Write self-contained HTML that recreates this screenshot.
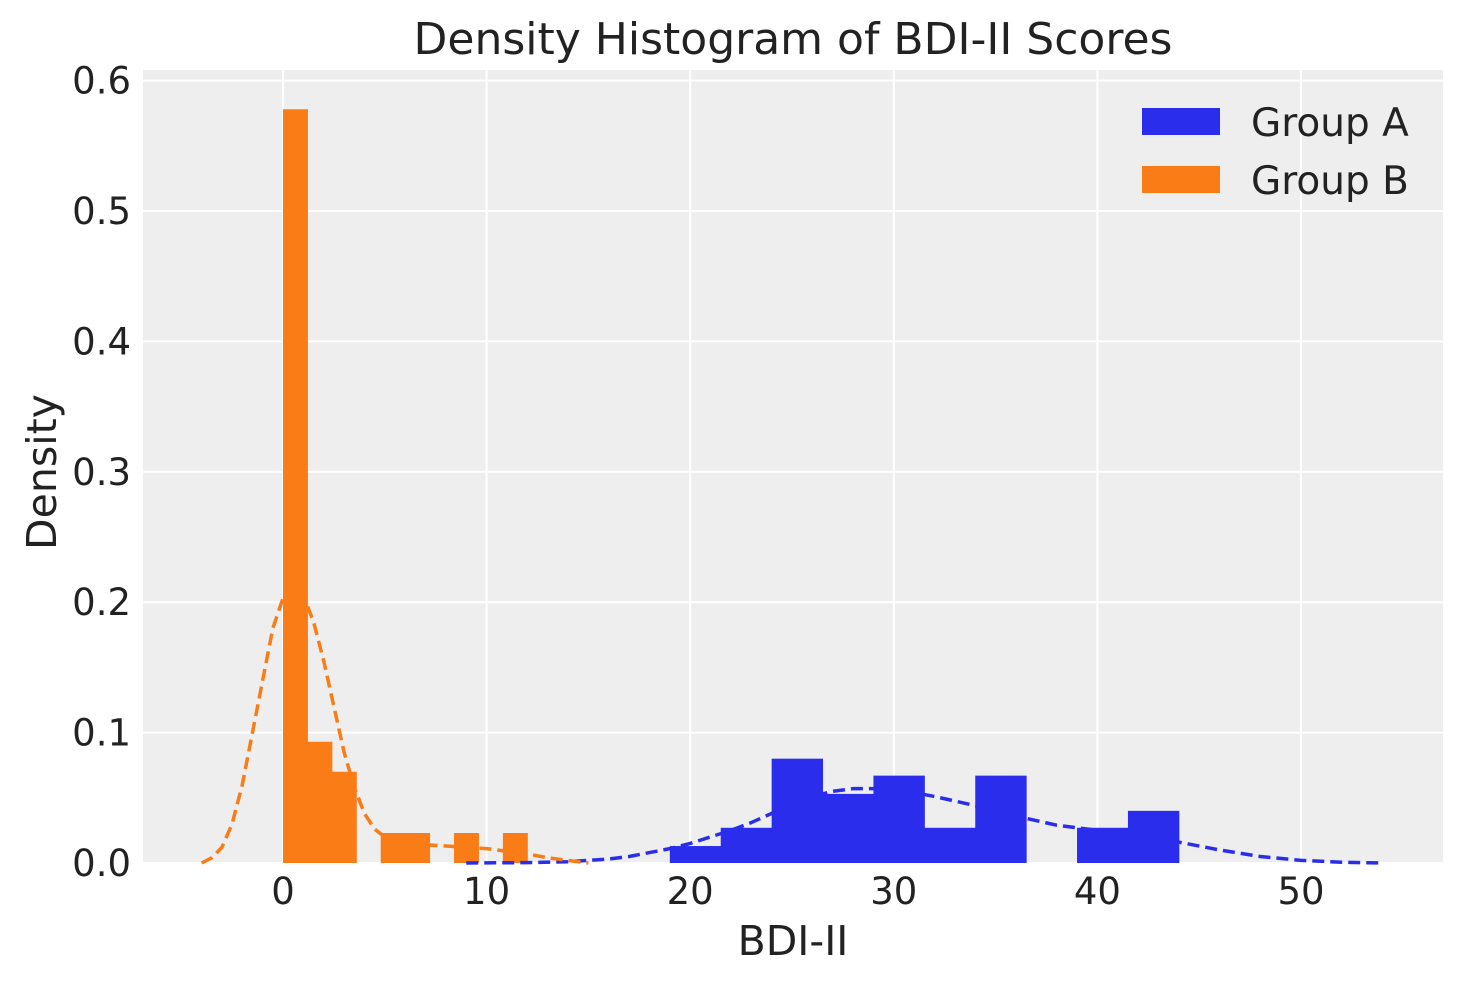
<!DOCTYPE html>
<html><head><meta charset="utf-8"><style>
body{margin:0;background:#fff;font-family:"Liberation Sans","DejaVu Sans",sans-serif;}
svg text{font-family:"DejaVu Sans","Liberation Sans",sans-serif;fill:#222;}
</style></head><body>
<svg id="chart" width="1463" height="983" xmlns="http://www.w3.org/2000/svg">
<rect x="143" y="70" width="1300" height="793" fill="#eeeeee"/>
<g id="grid"></g><g id="bars"></g><g id="lines"></g><g id="ticks"></g>
<text x="793" y="54" font-size="44" text-anchor="middle">Density Histogram of BDI-II Scores</text>
<text x="793" y="955" font-size="41" text-anchor="middle">BDI-II</text>
<text x="0" y="0" font-size="41" text-anchor="middle" transform="translate(56,472) rotate(-90)">Density</text>
<g>
<rect x="1142" y="108" width="78" height="27" fill="#2a2eec"/>
<text x="1251" y="136" font-size="39">Group A</text>
<rect x="1142" y="166" width="78" height="27" fill="#fa7c17"/>
<text x="1251" y="194" font-size="39">Group B</text>
</g>
</svg>
<script>
const xTicks=[0,10,20,30,40,50];
const yTicks=[0.0,0.1,0.2,0.3,0.4,0.5,0.6];
const bStart=0, bWidth=1.2;
const bValues=[0.578,0.093,0.070,0,0.023,0.023,0,0.023,0,0.023];
const aStart=19, aWidth=2.5;
const aValues=[0.013,0.027,0.080,0.053,0.067,0.027,0.067,0,0.027,0.040];
const bKdeX=[-4,-3.5,-3,-2.5,-2,-1.5,-1,-0.5,0,0.5,1,1.5,2,2.5,3,3.5,4,4.5,5,6,7,8,9,10,11,12,13,14,15];
const bKdeY=[0,0.004,0.012,0.03,0.06,0.1,0.14,0.18,0.203,0.212,0.205,0.185,0.155,0.12,0.085,0.058,0.038,0.026,0.02,0.016,0.014,0.013,0.012,0.011,0.009,0.007,0.004,0.002,0];
const aKdeX=[9,12,14,16,17,18,19,20,21,22,23,24,25,26,27,28,29,30,31,32,34,36,38,40,42,44,46,48,50,52,54];
const aKdeY=[0,0.0003,0.001,0.003,0.005,0.008,0.011,0.015,0.02,0.025,0.031,0.038,0.045,0.051,0.055,0.057,0.057,0.056,0.054,0.051,0.044,0.036,0.029,0.025,0.022,0.016,0.01,0.005,0.002,0.0006,0];
const NS="http://www.w3.org/2000/svg";
const X=v=>283+v*20.36, Y=v=>863-v*1304;
function mk(t,p,a){const e=document.createElementNS(NS,t);for(const k in a)e.setAttribute(k,a[k]);document.getElementById(p).appendChild(e);return e;}
xTicks.forEach(t=>{
 const l=mk('line','grid',{x1:X(t),x2:X(t),y1:70,y2:863,stroke:'#fff','stroke-width':2});
 
 
 const s=mk('text','ticks',{x:X(t),y:904,'font-size':37,'text-anchor':'middle'});s.textContent=t;
 
 
});
yTicks.forEach(t=>{
 const l=mk('line','grid',{x1:143,x2:1443,y1:Y(t),y2:Y(t),stroke:'#fff','stroke-width':2});
 
 
 const s=mk('text','ticks',{x:131,y:Y(t)+13,'font-size':37,'text-anchor':'end'});s.textContent=t.toFixed(1);
 
 
});
function bars(vals,start,w,col,name){vals.forEach((v,i)=>{
 const x0=X(start+i*w),x1=X(start+(i+1)*w);
 const r=mk('rect','bars',{x:x0,y:Y(v),width:x1-x0+0.5,height:Y(0)-Y(v),fill:col});
 
 
});}
bars(aValues,aStart,aWidth,'#2a2eec','bar-group-a');
bars(bValues,bStart,bWidth,'#fa7c17','bar-group-b');
function kde(xs,ys,col,name){
 const p=mk('path','lines',{d:xs.map((x,i)=>(i?'L':'M')+X(x)+','+Y(ys[i])).join(''),fill:'none',stroke:col,'stroke-width':3.5,'stroke-dasharray':'12,6','stroke-linejoin':'round'});
 
 
}
kde(aKdeX,aKdeY,'#2a2eec','kde-line-group-a');
kde(bKdeX,bKdeY,'#fa7c17','kde-line-group-b');
</script>
</body></html>
